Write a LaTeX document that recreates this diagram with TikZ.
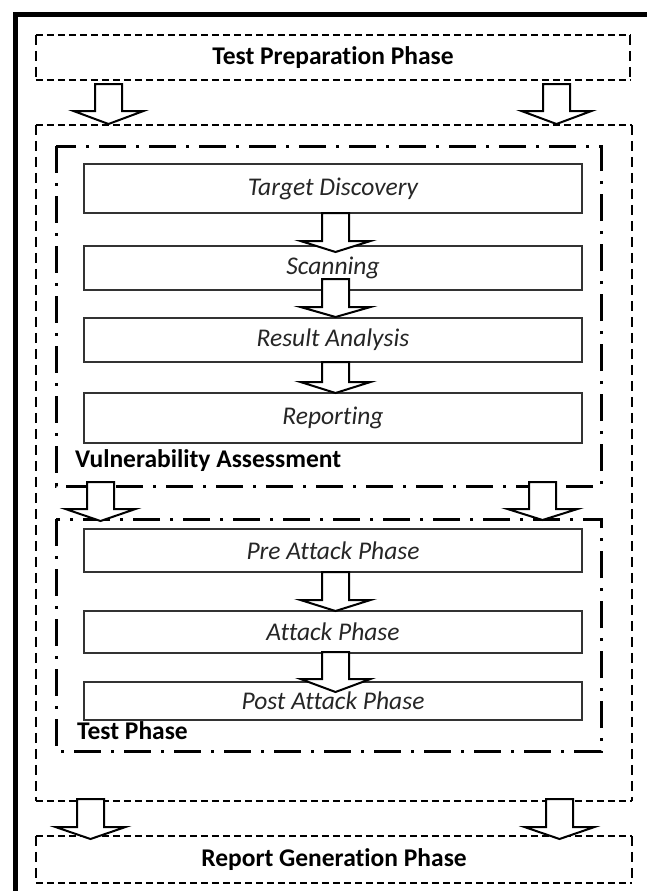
\documentclass[tikz,border=0pt]{standalone}
\usepackage{fontspec}
\setmainfont{Carlito}[Ligatures={NoCommon}]
\newcommand{\myDashFrame}[1]{%
  \draw[hdash] (#1.north west) -- (#1.north east);
  \draw[hdash] (#1.south west) -- (#1.south east);
  \draw[vdash] (#1.north west) -- (#1.south west);
  \draw[vdash] (#1.north east) -- (#1.south east);}
\newcommand{\myBlockArrow}[4]{% centre x, top y, head base y, tip y
  \draw[blockarrow] ({#1-13.5},#2) -- ({#1+13.5},#2) -- ({#1+13.5},#3) -- ({#1+35},#3)
    -- (#1,#4) -- ({#1-35},#3) -- ({#1-13.5},#3) -- cycle;}
\begin{document}
\begin{tikzpicture}[x=1pt,y=-1pt,
  hdash/.style={line width=1.5pt, dash pattern=on 7pt off 4pt},
  vdash/.style={line width=1.5pt, dash pattern=on 10pt off 6pt},
  dashdot/.style={line width=3pt, dash pattern=on 27pt off 10pt on 3pt off 10pt},
  phasebox/.style={inner sep=0pt, font=\fontsize{25.5}{29}\selectfont\bfseries, text=black},
  stepbox/.style={draw=black!80, line width=1.3pt, inner sep=0pt, minimum width=498pt,
     font=\fontsize{25.5}{29}\selectfont\itshape, text=black!85},
  blockarrow/.style={draw=black, line width=2pt, fill=white, line join=miter}
]
\useasboundingbox (0,0) rectangle (646,891);
\fill[white] (0,0) rectangle (646,891);
% outer thick frame (clipped by page)
\draw[line width=5pt] (15.5,900) -- (15.5,14.5) -- (660,14.5);

% phase boxes
\node[phasebox, minimum width=594pt, minimum height=45pt] (prep) at (333,57.5) {Test Preparation Phase};
\myDashFrame{prep}
\node[minimum width=596pt, minimum height=676pt, inner sep=0pt] (mid) at (334,463) {};
\myDashFrame{mid}
\node[phasebox, minimum width=596pt, minimum height=47pt] (rep) at (334,859.5) {Report Generation Phase};
\myDashFrame{rep}

% dash-dot groups
\draw[dashdot] (56,146) rectangle (601,486);
\draw[dashdot] (56,519) rectangle (601,751);
\node[phasebox, anchor=base west] (valabel) at (75,467) {Vulnerability Assessment};
\node[phasebox, anchor=base west] (tplabel) at (77,739) {Test Phase};

% steps
\node[stepbox, minimum height=49pt] (td) at (333,188.5) {Target Discovery};
\node[stepbox, minimum height=44pt] (sc) at (333,268) {Scanning};
\node[stepbox, minimum height=44pt] (ra) at (333,340) {Result Analysis};
\node[stepbox, minimum height=50pt] (rp) at (333,418) {Reporting};
\node[stepbox, minimum height=43pt] (pa) at (333,550.5) {Pre Attack Phase};
\node[stepbox, minimum height=42pt] (at) at (333,632) {Attack Phase};
\node[stepbox, minimum height=38pt] (po) at (333,701) {Post Attack Phase};

% block arrows
\myBlockArrow{108.5}{84}{111}{124}
\myBlockArrow{556.5}{84}{111}{124}
\myBlockArrow{335.5}{213}{241}{252}
\myBlockArrow{335.5}{279}{307}{317}
\myBlockArrow{335.5}{362}{382}{393}
\myBlockArrow{100.5}{482}{509}{521}
\myBlockArrow{542.5}{482}{509}{520}
\myBlockArrow{335.5}{572}{600}{611}
\myBlockArrow{335.5}{652}{679}{692}
\myBlockArrow{90.5}{799}{827}{839}
\myBlockArrow{559.5}{799}{827}{839}
\end{tikzpicture}
\end{document}
